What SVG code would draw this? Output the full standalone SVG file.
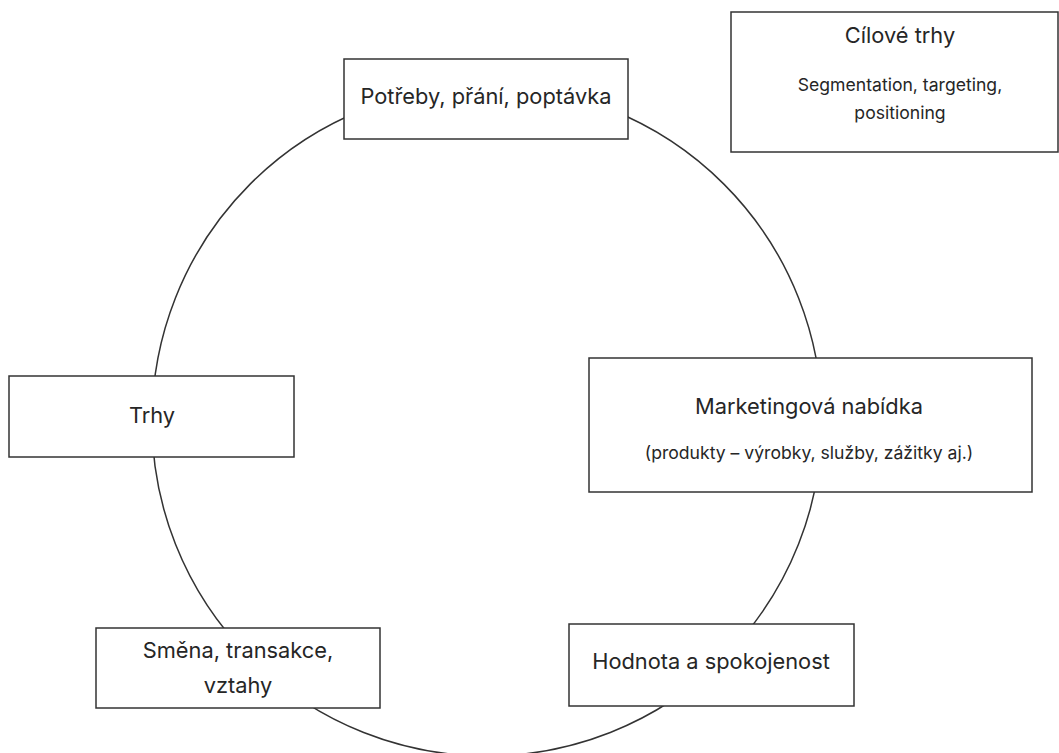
<svg xmlns="http://www.w3.org/2000/svg" width="1059" height="753" viewBox="0 0 1059 753">
<style>
.box{fill:#fff;stroke:#333;stroke-width:1.5}
.t{font-family:Inter,"Noto Sans","Liberation Sans",sans-serif;fill:#262626;text-anchor:middle}
.big{font-size:21.8px}
.small{font-size:17.6px}
.ring{fill:none;stroke:#333;stroke-width:1.5}
</style>
<rect width="1059" height="753" fill="#fff"/>
<g id="connectors">
<circle class="ring" cx="487" cy="421" r="335"/>
</g>
<g id="node-potreby">
<rect class="box" x="344" y="59" width="284" height="80"/>
<text class="t big" x="486" y="104">Potřeby, přání, poptávka</text>
</g>
<g id="node-cilove">
<rect class="box" x="731" y="12" width="327" height="140"/>
<text class="t big" x="900" y="43">Cílové trhy</text>
<text class="t small" x="900" y="91">Segmentation, targeting,</text>
<text class="t small" x="900" y="119">positioning</text>
</g>
<g id="node-marketing">
<rect class="box" x="589" y="358" width="443" height="134"/>
<text class="t big" x="809" y="414">Marketingová nabídka</text>
<text class="t small" x="809" y="459">(produkty – výrobky, služby, zážitky aj.)</text>
</g>
<g id="node-trhy">
<rect class="box" x="9" y="376" width="285" height="81"/>
<text class="t big" x="152" y="423">Trhy</text>
</g>
<g id="node-smena">
<rect class="box" x="96" y="628" width="284" height="80"/>
<text class="t big" x="238" y="658">Směna, transakce,</text>
<text class="t big" x="238" y="693">vztahy</text>
</g>
<g id="node-hodnota">
<rect class="box" x="569" y="624" width="285" height="82"/>
<text class="t big" x="711" y="669">Hodnota a spokojenost</text>
</g>
</svg>
